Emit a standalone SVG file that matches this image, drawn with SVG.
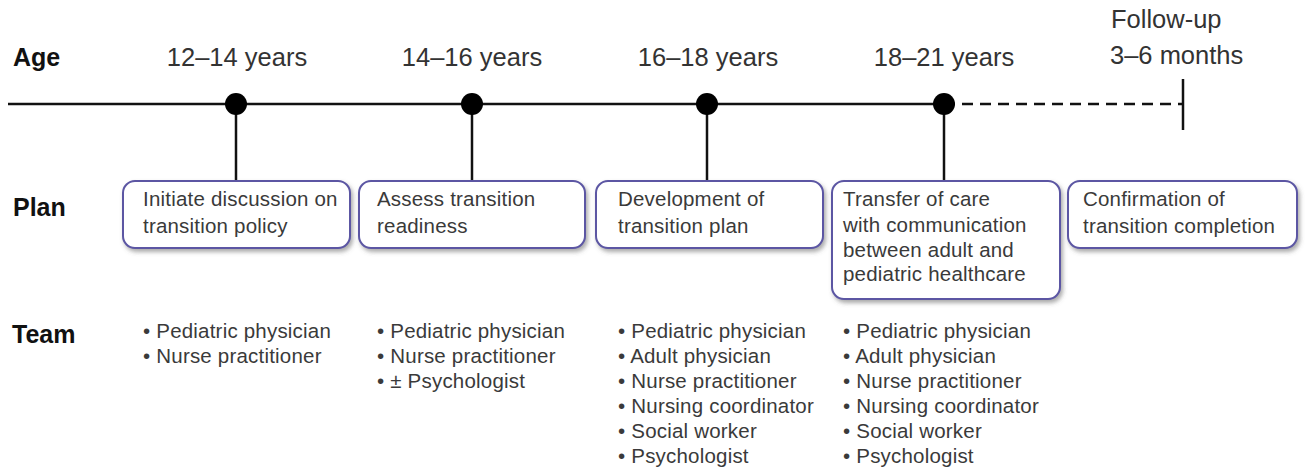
<svg xmlns="http://www.w3.org/2000/svg" width="1306" height="472" viewBox="0 0 1306 472">
<style>
.hd{font-family:"Liberation Sans",Arial,sans-serif;font-weight:bold;font-size:25px;fill:#111}
.age{font-family:"Liberation Sans",Arial,sans-serif;font-size:25.5px;fill:#333;text-anchor:middle}
.fu{font-family:"Liberation Sans",Arial,sans-serif;font-size:25.5px;fill:#333}
.bt{font-family:"Liberation Sans",Arial,sans-serif;font-size:20.5px;letter-spacing:0.2px;fill:#3a3a3a}
.box{fill:#fff;stroke:#5b56a3;stroke-width:2;filter:url(#sh)}
.ln{stroke:#111;stroke-width:2.5;fill:none}
</style>
<defs>
<filter id="sh" x="-10%" y="-10%" width="120%" height="130%">
<feDropShadow dx="2" dy="3" stdDeviation="2" flood-color="#555" flood-opacity="0.5"/>
</filter>
</defs>
<rect width="1306" height="472" fill="#fff"/>
<g id="labels">
<text class="hd" x="13" y="66">Age</text>
<text class="hd" x="13" y="216">Plan</text>
<text class="hd" x="12" y="343">Team</text>
<text class="age" x="237" y="66">12–14 years</text>
<text class="age" x="472" y="66">14–16 years</text>
<text class="age" x="708" y="66">16–18 years</text>
<text class="age" x="944" y="66">18–21 years</text>
<text class="fu" x="1111" y="28">Follow-up</text>
<text class="fu" x="1110" y="64">3–6 months</text>
</g>
<g id="connectors">
<line class="ln" x1="8" y1="104" x2="944" y2="104"/>
<line class="ln" x1="944" y1="104" x2="1183" y2="104" stroke-dasharray="11,7"/>
<line class="ln" x1="1183" y1="79" x2="1183" y2="130"/>
<line class="ln" x1="236" y1="104" x2="236" y2="181"/>
<line class="ln" x1="472" y1="104" x2="472" y2="181"/>
<line class="ln" x1="707" y1="104" x2="707" y2="181"/>
<line class="ln" x1="944" y1="104" x2="944" y2="181"/>
<circle cx="236" cy="104" r="11" fill="#000"/>
<circle cx="472" cy="104" r="11" fill="#000"/>
<circle cx="707" cy="104" r="11" fill="#000"/>
<circle cx="944" cy="104" r="11" fill="#000"/>
</g>
<g id="plan1">
<rect class="box" x="123" y="181" width="227" height="67" rx="12"/>
<text class="bt" x="143" y="206">Initiate discussion on</text>
<text class="bt" x="143" y="233">transition policy</text>
</g>
<g id="plan2">
<rect class="box" x="359" y="181" width="226" height="67" rx="12"/>
<text class="bt" x="377" y="206">Assess transition</text>
<text class="bt" x="377" y="233">readiness</text>
</g>
<g id="plan3">
<rect class="box" x="596" y="181" width="227" height="67" rx="12"/>
<text class="bt" x="618" y="206">Development of</text>
<text class="bt" x="618" y="233">transition plan</text>
</g>
<g id="plan4">
<rect class="box" x="832" y="181" width="228" height="118" rx="12"/>
<text class="bt" x="843" y="206">Transfer of care</text>
<text class="bt" x="843" y="232">with communication</text>
<text class="bt" x="843" y="257">between adult and</text>
<text class="bt" x="843" y="281">pediatric healthcare</text>
</g>
<g id="plan5">
<rect class="box" x="1068" y="181" width="229" height="67" rx="12"/>
<text class="bt" x="1083" y="206">Confirmation of</text>
<text class="bt" x="1083" y="233">transition completion</text>
</g>
<g id="team1">
<text class="bt" x="143" y="338">• Pediatric physician</text>
<text class="bt" x="143" y="363">• Nurse practitioner</text>
</g>
<g id="team2">
<text class="bt" x="377" y="338">• Pediatric physician</text>
<text class="bt" x="377" y="363">• Nurse practitioner</text>
<text class="bt" x="377" y="388">• ± Psychologist</text>
</g>
<g id="team3">
<text class="bt" x="618" y="338">• Pediatric physician</text>
<text class="bt" x="618" y="363">• Adult physician</text>
<text class="bt" x="618" y="388">• Nurse practitioner</text>
<text class="bt" x="618" y="413">• Nursing coordinator</text>
<text class="bt" x="618" y="438">• Social worker</text>
<text class="bt" x="618" y="463">• Psychologist</text>
</g>
<g id="team4">
<text class="bt" x="843" y="338">• Pediatric physician</text>
<text class="bt" x="843" y="363">• Adult physician</text>
<text class="bt" x="843" y="388">• Nurse practitioner</text>
<text class="bt" x="843" y="413">• Nursing coordinator</text>
<text class="bt" x="843" y="438">• Social worker</text>
<text class="bt" x="843" y="463">• Psychologist</text>
</g>
</svg>
